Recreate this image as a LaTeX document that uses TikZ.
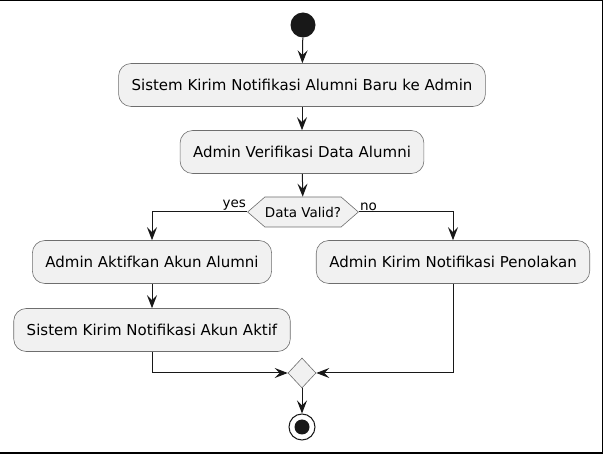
\documentclass[tikz,border=0pt]{standalone}
\usepackage{fontspec}
\setmainfont{DejaVu Sans}
\usetikzlibrary{positioning, arrows.meta, shapes.geometric, shapes.symbols}

\definecolor{boxgray}{HTML}{F1F1F1}
\definecolor{edgegray}{HTML}{6E6E6E}
\definecolor{lineclr}{HTML}{181818}

\begin{document}
\begin{tikzpicture}[
    x=1pt, y=-1pt,
    action/.style={rectangle, draw=edgegray, fill=boxgray, rounded corners=12.5pt, minimum height=43pt, inner xsep=13pt, line width=0.6pt, font=\fontsize{15}{18}\selectfont},
    decision/.style={signal, signal to=east and west, signal pointer angle=82, draw=edgegray, fill=boxgray, minimum width=108pt, minimum height=30pt, inner sep=0pt, line width=0.6pt, font=\fontsize{13.5}{16}\selectfont},
    merge/.style={diamond, draw=edgegray, fill=boxgray, minimum width=28pt, minimum height=30pt, inner sep=0pt, line width=0.6pt},
    startdot/.style={circle, fill=lineclr, minimum size=25pt, inner sep=0pt},
    stopring/.style={circle, draw=lineclr, fill=white, minimum size=26pt, inner sep=0pt, line width=1pt},
    arrow/.style={-{Stealth[length=13pt, width=10pt, inset=5pt]}, lineclr, line width=1pt},
    lbl/.style={font=\fontsize{13.5}{16}\selectfont, inner sep=1pt}
]
\useasboundingbox (0,0) rectangle (603,454);
\draw[line width=1.5pt] (0,0.75) -- (602.25,0.75) -- (602.25,453.25) -- (0,453.25);

% Start and first steps
\node[startdot] (start) at (303,25) {};
\node[action] (notify) at (302,85) {Sistem Kirim Notifikasi Alumni Baru ke Admin};
\node[action] (verify) at (302,152) {Admin Verifikasi Data Alumni};
\node[decision] (valid) at (303,212) {Data Valid?};

% Branches
\node[action] (activate) at (152,262) {Admin Aktifkan Akun Alumni};
\node[action] (reject) at (453,262) {Admin Kirim Notifikasi Penolakan};
\node[action] (confirm) at (152,330) {Sistem Kirim Notifikasi Akun Aktif};

% End
\node[merge] (join) at (302,373) {};
\node[stopring] (stop) at (302,427) {};
\node[startdot, minimum size=15pt] (stopdot) at (stop) {};

% Labels
\node[lbl, anchor=south east] at (valid.west) {yes};
\node[lbl, anchor=south west] at (valid.east) {no};

% Arrows
\draw[arrow] (start) -- (notify);
\draw[arrow] (notify) -- (verify);
\draw[arrow] (verify) -- (valid);
\draw[arrow] (valid.west) -| (activate);
\draw[arrow] (valid.east) -| (reject);
\draw[arrow] (activate) -- (confirm);
\draw[arrow] (confirm) |- (join);
\draw[arrow] (reject) |- (join);
\draw[arrow] (join) -- (stop);
\end{tikzpicture}
\end{document}
